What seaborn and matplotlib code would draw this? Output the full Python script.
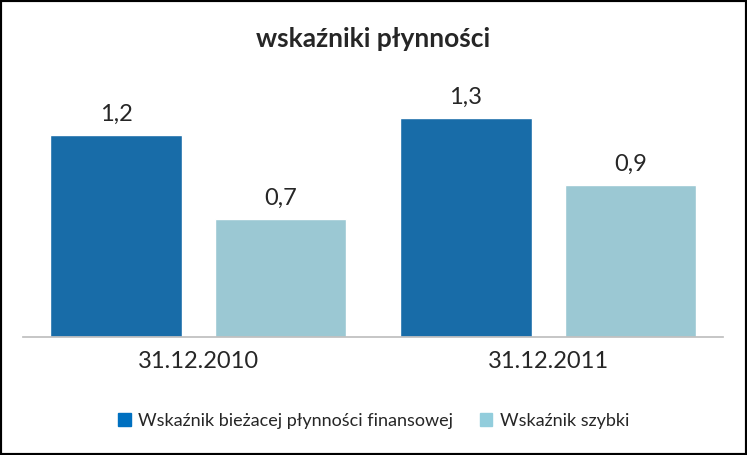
import matplotlib
matplotlib.use("Agg")
import matplotlib.pyplot as plt
import seaborn as sns
import pandas as pd
from matplotlib.patches import Rectangle

categories = ["31.12.2010", "31.12.2011"]
series = ["Wskaźnik bieżacej płynności finansowej", "Wskaźnik szybki"]
values_current = [1.2, 1.3]
values_quick = [0.7, 0.9]
labels_current = ["1,2", "1,3"]
labels_quick = ["0,7", "0,9"]
colors = ["#0070C0", "#92CDDC"]

sns.set_theme(style="white")
plt.rcParams['font.family'] = ['Lato', 'DejaVu Sans']

df = pd.DataFrame({
    "date": categories * 2,
    "series": [series[0]] * 2 + [series[1]] * 2,
    "value": values_current + values_quick,
})

fig = plt.figure(figsize=(7.47, 4.55), dpi=100)
ax = fig.add_axes([0.031, 0.26, 0.937, 0.61])
sns.barplot(data=df, x="date", y="value", hue="series", palette=colors,
            width=0.94, gap=0.2, ax=ax, legend=False)
ax.set_ylim(0, 1.65)
ax.set_yticks([])
ax.set_xlabel("")
ax.set_ylabel("")
for s in ["top", "right", "left"]:
    ax.spines[s].set_visible(False)
ax.spines["bottom"].set_color("#BFBFBF")
ax.tick_params(axis="x", labelsize=17, length=0, pad=10)

lbls = labels_current + labels_quick
for patch, lab in zip(ax.patches, lbls):
    ax.text(patch.get_x() + patch.get_width() / 2, patch.get_height() + 0.06,
            lab, ha="center", va="bottom", fontsize=17)

fig.text(0.5, 0.915, "wskaźniki płynności", ha="center", va="center",
         fontsize=19, fontweight="bold")

handles = [Rectangle((0, 0), 1, 1, color=c) for c in colors]
fig.legend(handles, series, loc="center", bbox_to_anchor=(0.5, 0.075),
           ncol=2, frameon=False, fontsize=13, handlelength=0.7,
           handleheight=0.7, columnspacing=1.5, handletextpad=0.4)

fig.patches.append(Rectangle((0, 0), 1, 1, transform=fig.transFigure,
                             fill=False, edgecolor="black", linewidth=3))
fig.savefig("out.png", dpi=100)
